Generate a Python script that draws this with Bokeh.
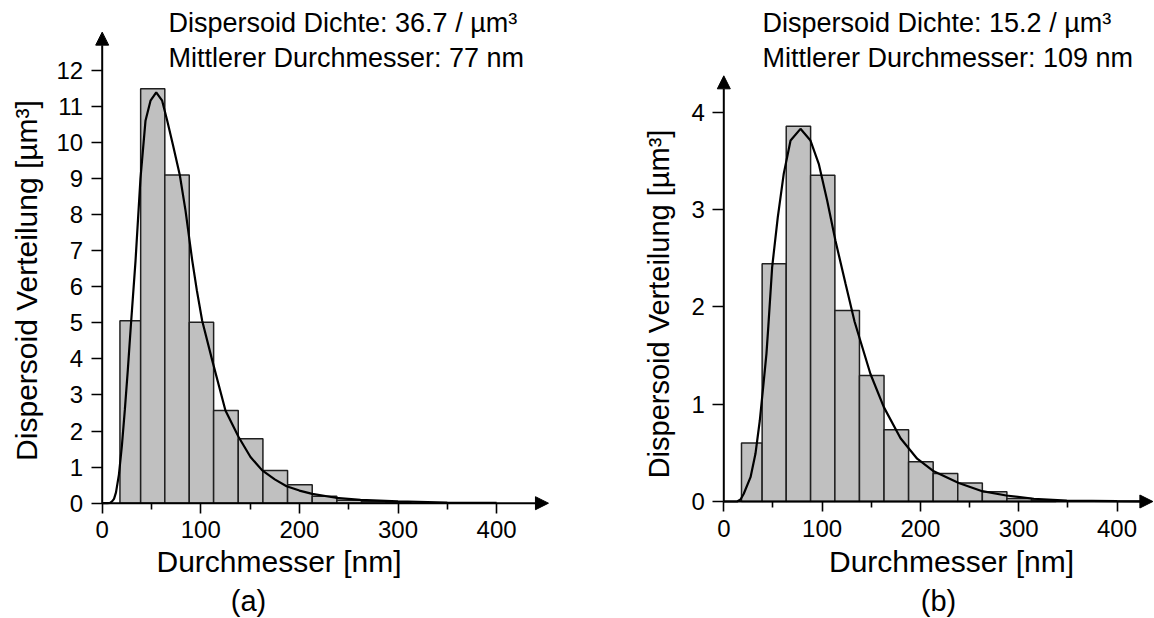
from bokeh.plotting import figure
from bokeh.models import Range1d, FixedTicker, Label, Arrow, NormalHead
from bokeh.layouts import row
from bokeh.embed import file_html
from bokeh.resources import INLINE

FONT = "Liberation Sans"

# ---------------- data ----------------
bin_edges = [18, 39, 63.5, 88.3, 113, 138, 163, 188, 213, 238, 263, 288, 313, 338]

a_heights = [5.06, 11.49, 9.10, 5.02, 2.57, 1.79, 0.91, 0.51, 0.19, 0.08, 0.05, 0.03]
a_fit_x = [0, 5, 8, 10, 12, 14, 17, 20, 23, 26, 29, 33.8, 38.8, 43.9, 49, 54.8, 60.8, 65.9, 72,
           78.7, 84.5, 91.3, 96, 101.4, 111.6, 125, 138.5, 150.4, 162.3, 175, 187, 200, 213,
           237, 262, 300, 350, 400]
a_fit_y = [0, 0, 0.01, 0.05, 0.12, 0.3, 0.8, 1.6, 2.6, 3.7, 4.9, 6.72, 9.0, 10.6, 11.16, 11.39,
           11.16, 10.61, 9.9, 9.10, 8.11, 6.73, 5.9, 5.06, 3.96, 2.57, 1.83, 1.28, 0.91, 0.66,
           0.47, 0.35, 0.26, 0.15, 0.09, 0.05, 0.02, 0.01]

b_heights = [0.60, 2.443, 3.857, 3.354, 1.963, 1.295, 0.737, 0.408, 0.288, 0.19, 0.10, 0.03, 0.015]
b_fit_x = [0, 10, 13.6, 17, 20.3, 27.2, 32.2, 36.6, 40, 43.4, 45.3, 49.2, 54.9, 61, 67.9, 78,
           88.2, 96.6, 105.2, 113.6, 123.8, 133, 139, 149.2, 162.8, 179.8, 196.7, 213.6, 239,
           262.9, 287.3, 315.4, 349, 400, 428]
b_fit_y = [0, 0, 0, 0.02, 0.08, 0.25, 0.49, 0.83, 1.17, 1.52, 1.8, 2.41, 2.92, 3.37, 3.71, 3.83,
           3.71, 3.47, 3.09, 2.68, 2.24, 1.85, 1.65, 1.31, 0.97, 0.65, 0.44, 0.31, 0.19, 0.106,
           0.062, 0.028, 0.01, 0.003, 0.001]

x_major = [0, 100, 200, 300, 400]
x_minor = [50, 150, 250, 350]
a_y_ticks = list(range(0, 13))
b_y_ticks = [0, 1, 2, 3, 4]

a_text = ["Dispersoid Dichte: 36.7 / µm³", "Mittlerer Durchmesser: 77 nm"]
b_text = ["Dispersoid Dichte: 15.2 / µm³", "Mittlerer Durchmesser: 109 nm"]
x_title = "Durchmesser [nm]"
y_title = "Dispersoid Verteilung [µm³]"

# axis extents (arrow tips)
a_x_tip, a_y_tip = 452.6, 13.06
b_x_tip, b_y_tip = 436.5, 4.375

W, H = 577, 618


def make_panel(heights, fx, fy, yticks, texts, panel_tag, x_tip, y_tip,
               xr, yr, text_pos, ylab_pos, ylab_size, xlab_pos, tag_pos):
    p = figure(width=W, height=H, x_range=Range1d(*xr), y_range=Range1d(*yr),
               min_border=0, min_border_left=0, min_border_right=0,
               min_border_top=0, min_border_bottom=0,
               output_backend="svg", toolbar_location=None,
               background_fill_color="white", border_fill_color="white")
    p.outline_line_color = None
    p.xgrid.grid_line_color = None
    p.ygrid.grid_line_color = None

    p.quad(left=bin_edges[:len(heights)], right=bin_edges[1:len(heights) + 1],
           bottom=0, top=heights, fill_color="#c0c0c0", line_color="#202020",
           line_width=1.5)
    p.line(fx, fy, line_color="black", line_width=2.2)

    for ax in (p.xaxis[0], p.yaxis[0]):
        ax.fixed_location = 0
        ax.axis_line_color = None
        ax.major_tick_in = 0
        ax.minor_tick_in = 0
        ax.major_tick_line_color = "black"
        ax.minor_tick_line_color = "black"
        ax.major_tick_line_width = 1.6
        ax.minor_tick_line_width = 1.6
        ax.major_label_text_font = FONT
        ax.major_label_text_font_size = "24px"
        ax.major_label_text_color = "black"

    p.xaxis.ticker = FixedTicker(ticks=x_major, minor_ticks=x_minor)
    p.xaxis.major_tick_out = 10
    p.xaxis.minor_tick_out = 6
    p.xaxis.major_label_standoff = 8

    p.yaxis.ticker = FixedTicker(ticks=yticks, minor_ticks=[])
    p.yaxis.major_tick_out = 11
    p.yaxis.major_label_standoff = 8

    head = dict(size=13, fill_color="black", line_color="black", line_width=1)
    p.add_layout(Arrow(x_start=0, y_start=0, x_end=x_tip, y_end=0,
                       end=NormalHead(**head), line_width=2, line_color="black"))
    p.add_layout(Arrow(x_start=0, y_start=0, x_end=0, y_end=y_tip,
                       end=NormalHead(**head), line_width=2, line_color="black"))

    common = dict(x_units="screen", y_units="screen", text_font=FONT,
                  text_color="black")
    for t, (tx, ty) in zip(texts, text_pos):
        p.add_layout(Label(x=tx, y=ty, text=t, text_font_size="27px",
                           text_align="left", text_baseline="alphabetic", **common))
    p.add_layout(Label(x=xlab_pos[0], y=xlab_pos[1], text=x_title, text_font_size="30px",
                       text_align="center", text_baseline="alphabetic", **common))
    p.add_layout(Label(x=ylab_pos[0], y=ylab_pos[1], text=y_title,
                       text_font_size=ylab_size,
                       text_align="center", text_baseline="alphabetic",
                       angle=1.5707963, angle_units="rad", **common))
    p.add_layout(Label(x=tag_pos[0], y=tag_pos[1], text=panel_tag, text_font_size="29px",
                       text_align="center", text_baseline="alphabetic", **common))
    return p


# left panel: x=0 at pixel 101.7 (0.986 px/nm), y=0 at pixel 502.7 (36.07 px/unit)
p1 = make_panel(a_heights, a_fit_x, a_fit_y, a_y_ticks, a_text, "(a)", a_x_tip, a_y_tip,
                xr=(-101.7 / 0.986, (W - 101.7) / 0.986),
                yr=((502.7 - H) / 36.07, 502.7 / 36.07),
                text_pos=[(168, 595.3), (168, 560.3)],
                ylab_pos=(26, H - 280), ylab_size="30px",
                xlab_pos=(278.5, 57.5), tag_pos=(248, 17.5))

# right panel: x=0 at pixel 723.3-577 (0.983 px/nm), y=0 at pixel 501 (97.3 px/unit)
p2 = make_panel(b_heights, b_fit_x, b_fit_y, b_y_ticks, b_text, "(b)", b_x_tip, b_y_tip,
                xr=(-146.3 / 0.983, (W - 146.3) / 0.983),
                yr=((501 - H) / 97.3, 501 / 97.3),
                text_pos=[(185, 595.3), (185, 560.3)],
                ylab_pos=(81.7, H - 303.5), ylab_size="29px",
                xlab_pos=(374, 57.5), tag_pos=(361, 17.5))

layout = row(p1, p2)
open("out.html", "w").write(file_html(layout, INLINE))
